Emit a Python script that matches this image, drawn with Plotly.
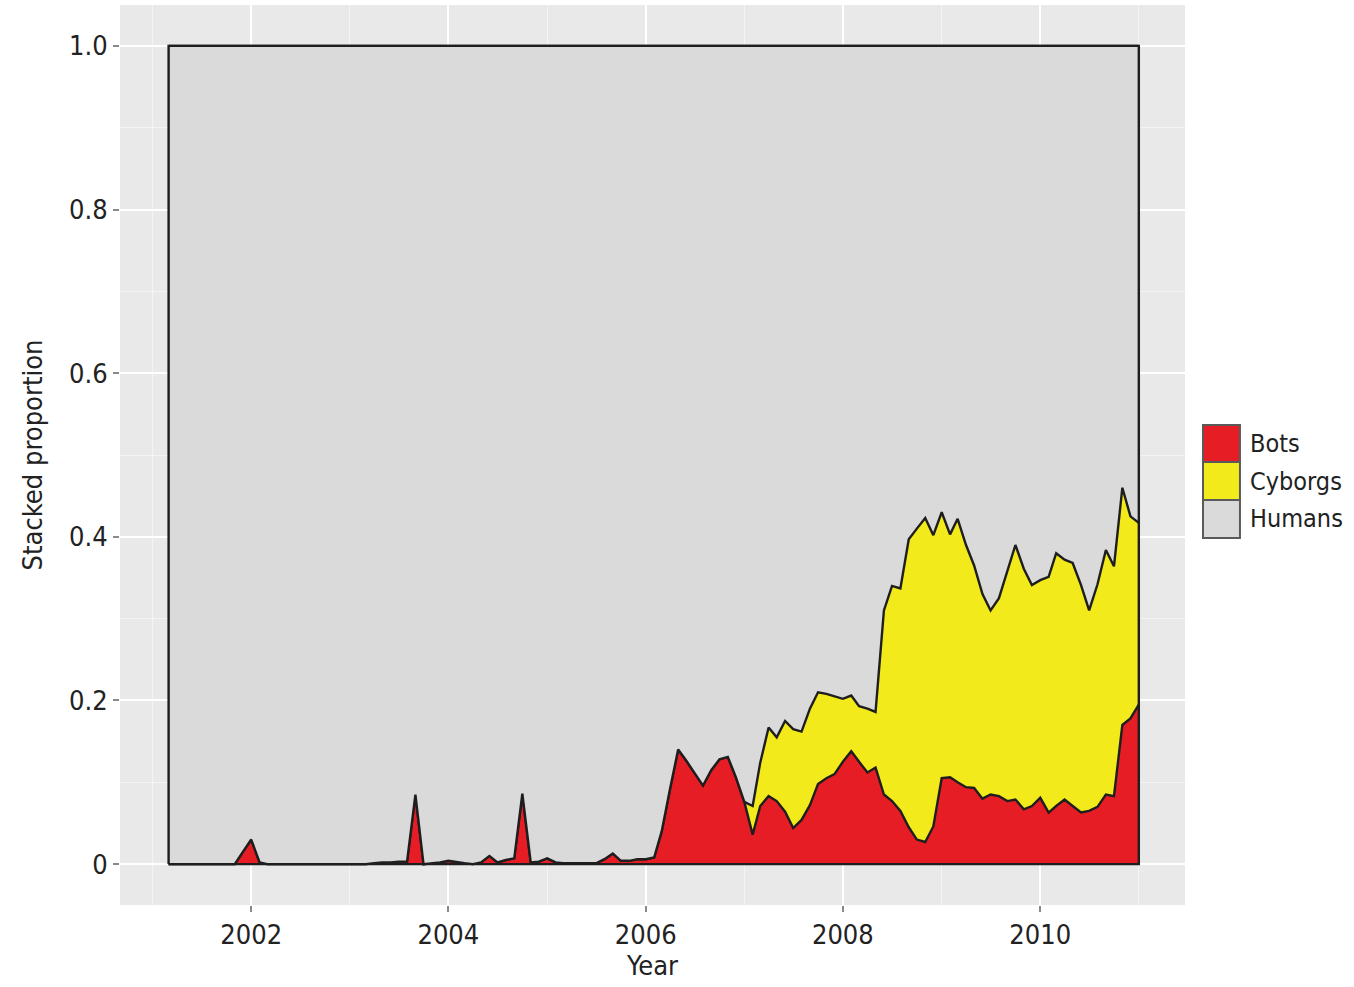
import pandas as pd
import plotly.graph_objects as go

# Monthly observations, March 2001 .. January 2011
months = pd.date_range("2001-03-01", "2011-01-01", freq="MS")

bots = [
    0, 0, 0, 0, 0, 0, 0, 0, 0, 0.015,            # 2001-03 .. 2001-12
    0.03, 0.002, 0, 0, 0, 0, 0, 0, 0, 0, 0, 0,   # 2002
    0, 0, 0, 0.001, 0.002, 0.002, 0.003, 0.003, 0.085, 0, 0.001, 0.002,  # 2003
    0.004, 0.002, 0.001, 0, 0.002, 0.01, 0.002, 0.005, 0.007, 0.086, 0.002, 0.003,  # 2004
    0.007, 0.002, 0.001, 0.001, 0.001, 0.001, 0.001, 0.006, 0.013, 0.004,  # 2005-01 .. 2005-10
    0.004, 0.006,                                 # 2005-11, 2005-12
    0.006, 0.008, 0.04, 0.092, 0.14, 0.126, 0.112, 0.096, 0.115, 0.128, 0.131, 0.106,  # 2006
    0.076, 0.036, 0.071, 0.083, 0.077, 0.064, 0.044, 0.054, 0.072, 0.098, 0.105, 0.11,  # 2007
    0.125, 0.138, 0.125, 0.112, 0.118, 0.085, 0.077, 0.065, 0.045, 0.03, 0.027, 0.046,  # 2008
    0.105, 0.106, 0.1, 0.094, 0.093, 0.08, 0.085, 0.083, 0.077, 0.079, 0.067, 0.071,  # 2009
    0.081, 0.063, 0.071, 0.079, 0.071, 0.063, 0.065, 0.07, 0.085, 0.083, 0.17, 0.178,  # 2010
    0.195,                                        # 2011-01
]

bots_plus_cyborgs_2007_on = [
    # 2007-01 .. 2011-01 (upper edge of the yellow band)
    0.076, 0.071, 0.124, 0.167, 0.155, 0.175, 0.165, 0.162, 0.19, 0.21, 0.208, 0.205,
    0.202, 0.206, 0.193, 0.19, 0.186, 0.31, 0.34, 0.337, 0.397, 0.41, 0.423, 0.402,
    0.43, 0.403, 0.422, 0.39, 0.365, 0.33, 0.31, 0.325, 0.357, 0.39, 0.361, 0.341,
    0.347, 0.351, 0.38, 0.372, 0.368, 0.341, 0.31, 0.342, 0.384, 0.364, 0.46, 0.425,
    0.417,
]

n_before = len(bots) - len(bots_plus_cyborgs_2007_on)
cyborgs = [0.0] * n_before + [
    round(max(t - b, 0.0), 4)
    for t, b in zip(bots_plus_cyborgs_2007_on, bots[n_before:])
]
humans = [round(1.0 - b - c, 4) for b, c in zip(bots, cyborgs)]

series_names = ["Bots", "Cyborgs", "Humans"]
series_values = [bots, cyborgs, humans]
series_colors = ["#E71D25", "#F2EA1A", "#DADADA"]

x_ticks = ["2002-01-01", "2004-01-01", "2006-01-01", "2008-01-01", "2010-01-01"]
x_tick_labels = ["2002", "2004", "2006", "2008", "2010"]
y_ticks = [0, 0.2, 0.4, 0.6, 0.8, 1.0]
y_tick_labels = ["0", "0.2", "0.4", "0.6", "0.8", "1.0"]

FONT = "DejaVu Sans Condensed, Liberation Sans Narrow, sans-serif"
LINE = "#1E1E1E"
TXT = "#222222"

fig = go.Figure()
for name, vals, col in zip(series_names, series_values, series_colors):
    fig.add_trace(go.Scatter(
        x=months, y=vals, name=name, mode="lines", stackgroup="one",
        fillcolor=col, line=dict(color=LINE, width=2.4),
        showlegend=False, hoverinfo="x+y+name",
    ))

# outline of the whole stacked region (left / right edges, base and top)
total0 = bots[0] + cyborgs[0] + humans[0]
fig.add_trace(go.Scatter(
    x=[months[0], months[0], months[-1], months[-1], months[0]],
    y=[0, total0, total0, 0, 0],
    mode="lines", line=dict(color=LINE, width=2.4),
    showlegend=False, hoverinfo="skip",
))

# right-hand legend drawn as boxes + text
x0, x1 = 1.0169, 1.0516
tops = [0.5333, 0.4922, 0.45]
bots_y = [0.4922, 0.45, 0.4078]
for name, col, yt, yb in zip(series_names, series_colors, tops, bots_y):
    fig.add_shape(type="rect", xref="paper", yref="paper",
                  x0=x0, x1=x1, y0=yb, y1=yt,
                  fillcolor=col, line=dict(color="#5A5A5A", width=2))
    fig.add_annotation(xref="paper", yref="paper", x=1.059, y=(yt + yb) / 2,
                       text=name, showarrow=False, xanchor="left", yanchor="middle",
                       font=dict(family=FONT, size=25, color=TXT))

fig.update_layout(
    width=1354, height=987,
    margin=dict(l=120, r=169, t=5, b=82),
    paper_bgcolor="white",
    plot_bgcolor="#E9E9E9",
    font=dict(family=FONT, size=27, color=TXT),
    showlegend=False,
    xaxis=dict(
        type="date",
        range=["2000-09-02", "2011-06-21"],
        tickvals=x_ticks, ticktext=x_tick_labels,
        showgrid=True, gridcolor="white", gridwidth=1.6,
        minor=dict(tickvals=["2001-01-01", "2003-01-01", "2005-01-01", "2007-01-01",
                             "2009-01-01", "2011-01-01"],
                   showgrid=True, gridcolor="#F4F4F4", gridwidth=0.8, ticks=""),
        ticks="outside", ticklen=6, tickwidth=1.5, tickcolor="#8A8A8A",
        zeroline=False, showline=False,
        tickfont=dict(family=FONT, size=27, color=TXT),
        title=dict(text="Year", font=dict(family=FONT, size=27, color=TXT), standoff=3),
    ),
    yaxis=dict(
        range=[-0.05, 1.05],
        tickvals=y_ticks, ticktext=y_tick_labels,
        showgrid=True, gridcolor="white", gridwidth=1.6,
        minor=dict(tickvals=[0.1, 0.3, 0.5, 0.7, 0.9],
                   showgrid=True, gridcolor="#F4F4F4", gridwidth=0.8, ticks=""),
        ticks="outside", ticklen=6, tickwidth=1.5, tickcolor="#8A8A8A",
        zeroline=False, showline=False,
        tickfont=dict(family=FONT, size=27, color=TXT),
        title=dict(text="Stacked proportion", font=dict(family=FONT, size=27, color=TXT),
                   standoff=18),
    ),
)

fig.write_html("out.html", config={"displayModeBar": False},
               post_script="document.body.style.margin='0px';")
